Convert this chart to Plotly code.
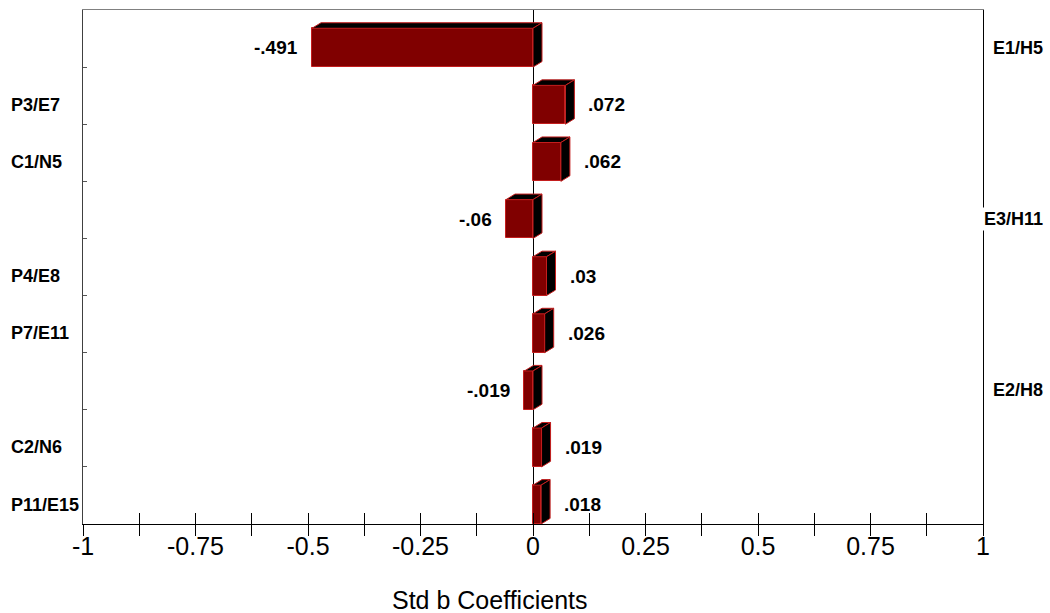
import plotly.graph_objects as go

# coefficients, top to bottom
labels = ["E1/H5", "P3/E7", "C1/N5", "E3/H11", "P4/E8", "P7/E11", "E2/H8", "C2/N6", "P11/E15"]
coefs = [-0.491, 0.072, 0.062, -0.06, 0.03, 0.026, -0.019, 0.019, 0.018]

tick_vals = [-1, -0.875, -0.75, -0.625, -0.5, -0.375, -0.25, -0.125, 0,
             0.125, 0.25, 0.375, 0.5, 0.625, 0.75, 0.875, 1]
tick_text = ["-1", "", "-0.75", "", "-0.5", "", "-0.25", "", "0",
             "", "0.25", "", "0.5", "", "0.75", "", "1"]

FONT = "Liberation Sans, Arial, sans-serif"
FRONT = "#800000"
EDGE = "#c41e1e"
BAR_W = 0.68
BAR_OFF = -0.18
DX = 0.02    # box depth along x (~9px)
DY = 0.097   # box depth along y (~5.5px)


def fmt(v):
    return ("%g" % v).replace("0.", ".")


pos = list(range(len(labels)))
fig = go.Figure()

# 3d faces: top and right side of each box
for i, v in zip(pos, coefs):
    lo, hi = min(v, 0), max(v, 0)
    top = i + BAR_OFF
    bot = top + BAR_W
    fig.add_trace(go.Scatter(
        x=[lo, lo + DX, hi + DX, hi, lo], y=[top, top - DY, top - DY, top, top],
        fill="toself", fillcolor="black", mode="lines",
        line=dict(color=EDGE, width=1), hoverinfo="skip", showlegend=False))
    fig.add_trace(go.Scatter(
        x=[hi, hi + DX, hi + DX, hi, hi], y=[top, top - DY, bot - DY, bot, top],
        fill="toself", fillcolor="black", mode="lines",
        line=dict(color=EDGE, width=1), hoverinfo="skip", showlegend=False))

fig.add_trace(go.Bar(x=coefs, y=pos, orientation="h", width=BAR_W, offset=BAR_OFF,
                     marker=dict(color=FRONT, line=dict(color=EDGE, width=1)),
                     showlegend=False))

# empty traces so the overlay axes (frame lines, lower tick halves) get drawn
for xa, ya in [("x2", "y"), ("x3", "y"), ("x", "y2")]:
    fig.add_trace(go.Scatter(x=[], y=[], xaxis=xa, yaxis=ya, mode="markers",
                             hoverinfo="skip", showlegend=False))

annots = []
for i, (lab, v) in zip(pos, zip(labels, coefs)):
    yc = i + BAR_OFF + BAR_W / 2
    if v >= 0:
        annots.append(dict(x=-0.082, xref="paper", xanchor="left", y=yc, yref="y",
                           text="<b>%s</b>" % lab, showarrow=False,
                           font=dict(size=18, color="black", family=FONT)))
        annots.append(dict(x=v, xref="x", xanchor="left", xshift=21, y=yc, yref="y",
                           text="<b>%s</b>" % fmt(v), showarrow=False,
                           font=dict(size=19, color="black", family=FONT)))
    else:
        annots.append(dict(x=1.069, xref="paper", xanchor="right", y=yc, yref="y",
                           text="<b>%s</b>" % lab, showarrow=False, bgcolor="white",
                           borderpad=1,
                           font=dict(size=18, color="black", family=FONT)))
        annots.append(dict(x=v, xref="x", xanchor="right", xshift=-12, y=yc, yref="y",
                           text="<b>%s</b>" % fmt(v), showarrow=False,
                           font=dict(size=19, color="black", family=FONT)))

annots.append(dict(x=0.452, xref="paper", y=-0.148, yref="paper", yanchor="middle",
                   text="Std b Coefficients", showarrow=False,
                   font=dict(size=25, color="black", family=FONT)))

fig.update_layout(
    width=1050, height=613,
    margin=dict(l=83, r=67, t=10, b=89),
    plot_bgcolor="white", paper_bgcolor="white",
    bargap=0,
    annotations=annots,
    # labelled axis carries the upward half of each tick
    xaxis=dict(range=[-1, 1], tickmode="array", tickvals=tick_vals, ticktext=tick_text,
               ticks="inside", ticklen=11, tickcolor="black", showgrid=False,
               showline=True, linecolor="black", linewidth=1,
               zeroline=True, zerolinecolor="black", zerolinewidth=1,
               tickfont=dict(size=25, color="black", family=FONT)),
    xaxis2=dict(range=[-1, 1], overlaying="x", anchor="y", side="bottom",
                tickmode="array", tickvals=tick_vals, ticks="outside", ticklen=11,
                tickcolor="black", showticklabels=False, showgrid=False,
                zeroline=False, showline=False),
    xaxis3=dict(range=[-1, 1], overlaying="x", anchor="y", side="top",
                showticklabels=False, ticks="", showgrid=False, zeroline=False,
                showline=True, linecolor="#808080", linewidth=1),
    yaxis=dict(range=[len(labels) - 0.5, -0.5], tickmode="array",
               tickvals=[p + 0.5 for p in pos[:-1]], ticks="inside", ticklen=4,
               tickcolor="#555555", showticklabels=False, showgrid=False,
               zeroline=False, showline=True, linecolor="#404040", linewidth=1),
    yaxis2=dict(range=[len(labels) - 0.5, -0.5], overlaying="y", anchor="x", side="right",
                showticklabels=False, ticks="", showgrid=False, zeroline=False,
                showline=True, linecolor="black", linewidth=1),
)

fig.write_html("out.html", config={"displayModeBar": False},
               post_script="document.body.style.margin='0';")
